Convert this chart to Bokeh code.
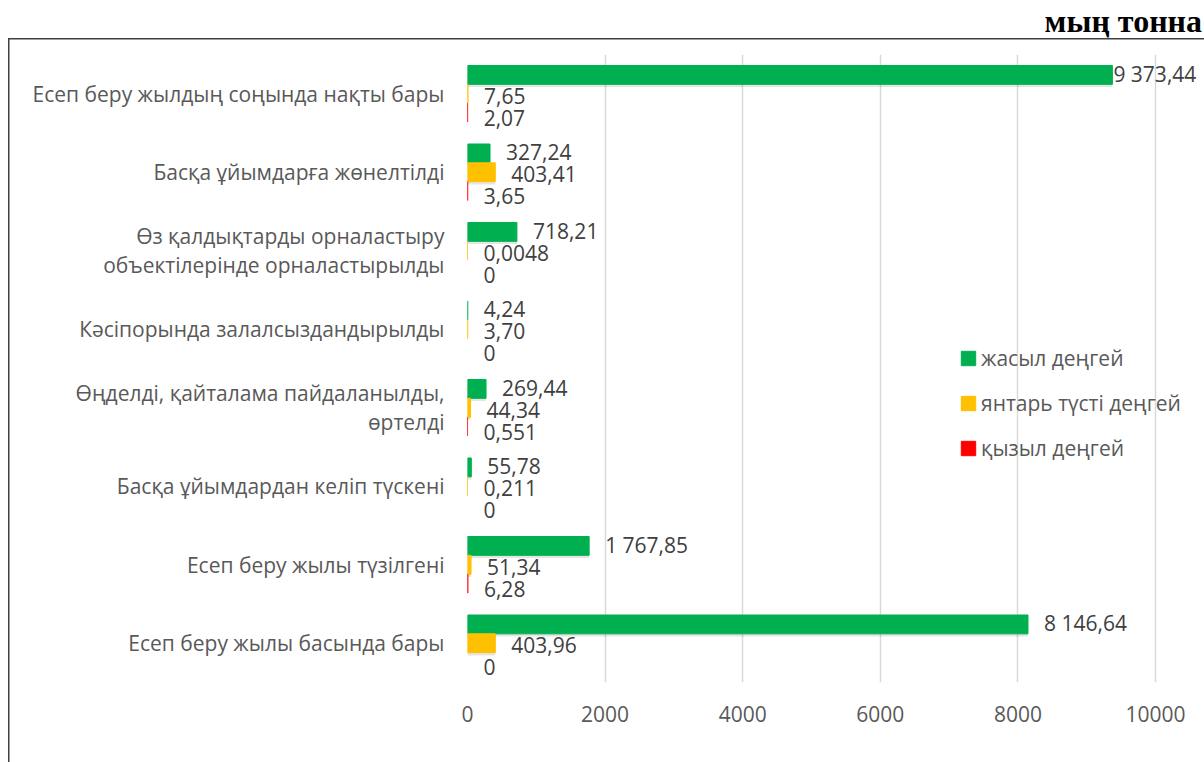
from bokeh.plotting import figure
from bokeh.layouts import column
from bokeh.models import (ColumnDataSource, FactorRange, Range1d, FixedTicker,
                          Legend, LegendItem, Div)
from bokeh.transform import dodge
from bokeh.core.properties import value
from bokeh.embed import file_html
from bokeh.resources import INLINE

# ---------------- data ----------------
categories = [
    "Есеп беру жылдың соңында нақты бары",
    "Басқа ұйымдарға жөнелтілді",
    "Өз қалдықтарды орналастыру\nобъектілерінде орналастырылды",
    "Кәсіпорында залалсыздандырылды",
    "Өңделді, қайталама пайдаланылды,\nөртелді",
    "Басқа ұйымдардан келіп түскені",
    "Есеп беру жылы түзілгені",
    "Есеп беру жылы басында бары",
]
green_values = [9373.44, 327.24, 718.21, 4.24, 269.44, 55.78, 1767.85, 8146.64]
amber_values = [7.65, 403.41, 0.0048, 3.70, 44.34, 0.211, 51.34, 403.96]
red_values = [2.07, 3.65, 0, 0, 0.551, 0, 6.28, 0]
green_labels = ["9 373,44", "327,24", "718,21", "4,24", "269,44", "55,78", "1 767,85", "8 146,64"]
amber_labels = ["7,65", "403,41", "0,0048", "3,70", "44,34", "0,211", "51,34", "403,96"]
red_labels = ["2,07", "3,65", "0", "0", "0,551", "0", "6,28", "0"]
series_names = ["жасыл деңгей", "янтарь түсті деңгей", "қызыл деңгей"]
x_ticks = [0, 2000, 4000, 6000, 8000, 10000]
unit_label = "мың тонна"

# ---------------- layout ----------------
W = 1204
HEADER_H = 38
H = 762 - HEADER_H
LEFT, RIGHT, TOP, BOTTOM = 467, 0, 54 - HEADER_H, 80
PX_PER_10K = 688
FRAME_W = W - LEFT - RIGHT
x_end = 10000 * FRAME_W / PX_PER_10K
FONT = "Open Sans"
colors = ["#00B050", "#FFC000", "#FF0000"]
LABEL_GAP = 16


def label_offsets(vals, labs):
    out = []
    for v, l in zip(vals, labs):
        end_px = v * PX_PER_10K / 10000 + LABEL_GAP + len(l) * 10.5
        out.append(1 if end_px > FRAME_W else LABEL_GAP)
    return out


def min_line(vals):
    # non-zero values get a hairline so that tiny bars stay visible
    return [1.0 if v > 0 else 0.0 for v in vals]


src = ColumnDataSource(dict(
    cat=categories,
    green=green_values, amber=amber_values, red=red_values,
    green_lab=green_labels, amber_lab=amber_labels, red_lab=red_labels,
    green_off=label_offsets(green_values, green_labels),
    amber_off=label_offsets(amber_values, amber_labels),
    red_off=label_offsets(red_values, red_labels),
    green_la=min_line(green_values),
    amber_la=min_line(amber_values),
    red_la=min_line(red_values),
))

p = figure(width=W, height=H,
           y_range=FactorRange(factors=categories[::-1]),
           x_range=Range1d(0, x_end),
           output_backend="svg", toolbar_location=None,
           min_border_left=LEFT, min_border_right=RIGHT,
           min_border_top=TOP, min_border_bottom=BOTTOM)
p.outline_line_color = None
p.background_fill_color = "white"
p.border_fill_color = None
# chart-area frame (top and left edges) drawn behind the transparent border
p.styles = {
    "background-image": "linear-gradient(#404040, #404040), linear-gradient(#404040, #404040)",
    "background-position": "8px 0px, 8px 0px",
    "background-size": "100% 1.5px, 1.5px 100%",
    "background-repeat": "no-repeat",
}

BAR_H = 0.24
# (column, bar offset within the category, label vertical nudge in px)
series = [("green", BAR_H, -1), ("amber", 0.0, 2), ("red", -BAR_H, 5)]

# soft shadows
for col, d, _ in series:
    p.hbar(y=dodge("cat", d - 0.035, range=p.y_range), right=col, left=0,
           height=BAR_H, source=src, fill_color="black", fill_alpha=0.10,
           line_color=None)

bar_renderers = []
for (col, d, dy), c in zip(series, colors):
    r = p.hbar(y=dodge("cat", d, range=p.y_range), right=col, left=0,
               height=BAR_H, source=src, fill_color=c, line_color=c,
               line_width=1, line_alpha=col + "_la")
    bar_renderers.append(r)
    p.text(x=col, y=dodge("cat", d, range=p.y_range), text=col + "_lab",
           x_offset=col + "_off", y_offset=dy, source=src,
           text_font=value(FONT), text_font_size="21px",
           text_color="#404040", text_baseline="middle", text_align="left")

# axes
p.yaxis.major_label_text_font = FONT
p.yaxis.major_label_text_font_size = "21px"
p.yaxis.major_label_text_color = "#595959"
p.yaxis.major_label_text_line_height = 1.02
p.yaxis.axis_line_color = None
p.yaxis.major_tick_line_color = None
p.yaxis.major_tick_out = 0
p.yaxis.major_label_standoff = 23
p.ygrid.grid_line_color = None

p.xaxis.ticker = FixedTicker(ticks=x_ticks)
p.xaxis.major_label_text_font = FONT
p.xaxis.major_label_text_font_size = "21px"
p.xaxis.major_label_text_color = "#595959"
p.xaxis.axis_line_color = None
p.xaxis.major_tick_line_color = None
p.xaxis.minor_tick_line_color = None
p.xaxis.major_tick_out = 0
p.xaxis.major_label_standoff = 23
p.xgrid.grid_line_color = "#D9D9D9"
p.xgrid.grid_line_width = 1.5

# legend
legend = Legend(items=[LegendItem(label=n, renderers=[r])
                       for n, r in zip(series_names, bar_renderers)],
                location=(492, 220), orientation="vertical",
                glyph_width=18, glyph_height=18, label_standoff=4,
                spacing=17, padding=0, margin=0,
                border_line_color=None, background_fill_alpha=0,
                label_text_font=FONT, label_text_font_size="21px",
                label_text_color="#595959")
p.add_layout(legend)

# unit caption above the framed chart area (no widget margin)
header = Div(text=unit_label, width=W - 2, height=HEADER_H, margin=0,
             styles={"text-align": "right",
                     "font-family": "'Liberation Serif', 'Times New Roman', serif",
                     "font-weight": "bold",
                     "font-size": "32px",
                     "line-height": "42px",
                     "color": "black",
                     "overflow": "visible",
                     "white-space": "nowrap"})

layout = column(header, p, spacing=0)

open("out.html", "w").write(file_html(layout, INLINE))
